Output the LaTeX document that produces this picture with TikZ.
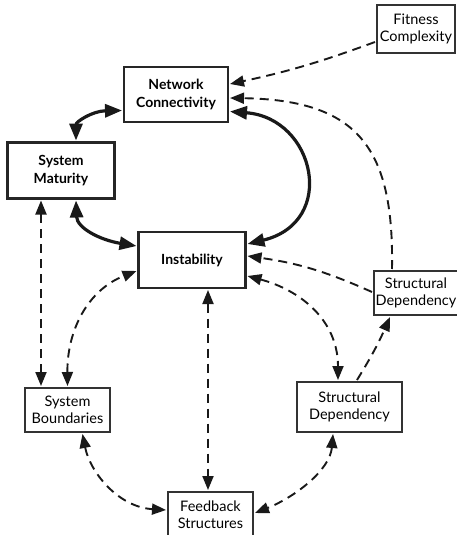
\documentclass[tikz,border=0pt]{standalone}
\usepackage{fontspec}
\setmainfont{Lato}
\usetikzlibrary{arrows.meta,calc}

\tikzset{
  boxtext/.style={align=center, inner sep=0pt, outer sep=2pt,
    font=\fontsize{14.5}{17}\selectfont},
  thickbox/.style={boxtext, draw=black!85, line width=2.8pt,
    font=\fontsize{14}{17.5}\selectfont\bfseries},
  thinbox/.style={boxtext, draw=black!80, line width=1.3pt},
  solidlink/.style={line width=3.2pt, black!90,
    {Triangle[length=17pt,width=13pt]}-{Triangle[length=17pt,width=13pt]}},
  dashlink/.style={line width=1.9pt, black!90, dash pattern=on 9pt off 6pt},
  onehead/.style={dashlink, -{Triangle[length=14pt,width=11pt]}},
  twoheads/.style={dashlink,
    {Triangle[length=14pt,width=11pt]}-{Triangle[length=14pt,width=11pt]}},
}

\begin{document}
\begin{tikzpicture}[x=1pt,y=-1pt]
\useasboundingbox (0,0) rectangle (456,535);

% boxes
\node[thinbox, minimum width=78pt, minimum height=48pt] (FIT) at (416,29) {Fitness\\Complexity};
\node[thickbox, minimum width=104pt, minimum height=55pt] (NC) at (176,94.5) {Network\\Connectivity};
\node[thickbox, minimum width=107pt, minimum height=56pt] (SM) at (61,170.5) {System\\Maturity};
\node[thickbox, minimum width=107pt, minimum height=56pt] (IN) at (192,260) {Instability};
\node[thinbox, minimum width=84pt, minimum height=44pt] (SDR) at (416,293) {Structural\\Dependency};
\node[thinbox, minimum width=85pt, minimum height=44pt] (SB) at (67.5,410) {System\\Boundaries};
\node[thinbox, minimum width=105pt, minimum height=50pt] (SDM) at (349.5,407) {Structural\\Dependency};
\node[thinbox, minimum width=85pt, minimum height=46pt] (FB) at (210.5,515) {Feedback\\Structures};

% solid feedback between the core boxes
\draw[solidlink] ($(NC.west)+(0,16)$) .. controls (92,111) and (76,122) .. ($(SM.north)+(15,0)$);
\draw[solidlink] ($(NC.east)+(0,17)$) .. controls (315,118) and (338,222) .. ($(IN.east)+(0,-16)$);
\draw[solidlink] ($(SM.south)+(15,0)$) .. controls (77,228) and (100,240) .. ($(IN.west)+(0,-14)$);

% dashed influences
\draw[onehead] ($(FIT.west)+(0,13)$) to[bend left=4] ($(NC.east)+(0,-10.5)$);
\draw[onehead] ($(SDR.north)+(-24,0)$) .. controls (394,150) and (360,100) .. ($(NC.east)+(0,3.5)$);
\draw[onehead] ($(SDR.west)+(0,-1)$) to[bend right=8] ($(IN.east)+(0,-4)$);
\draw[twoheads] ($(IN.east)+(0,16)$) .. controls (300,290) and (338,320) .. ($(SDM.north)+(-11.5,0)$);
\draw[onehead] ($(SDM.north)+(7.5,0)$) to[bend right=4] ($(SDR.south)+(-26,0)$);
\draw[twoheads] ($(SDM.south)+(-16.5,0)$) .. controls (330,470) and (295,497) .. ($(FB.east)+(0,-2)$);
\draw[twoheads] ($(IN.south)+(16,0)$) -- ($(FB.north)+(-2.5,0)$);
\draw[twoheads] ($(SB.south)+(15,0)$) .. controls (90,472) and (118,507) .. ($(FB.west)+(0,-5)$);
\draw[twoheads] ($(SM.south)+(-20,0)$) -- ($(SB.north)+(-26.5,0)$);
\draw[twoheads] (SB.north) .. controls (67,330) and (88,290) .. ($(IN.west)+(0,11)$);

\end{tikzpicture}
\end{document}
